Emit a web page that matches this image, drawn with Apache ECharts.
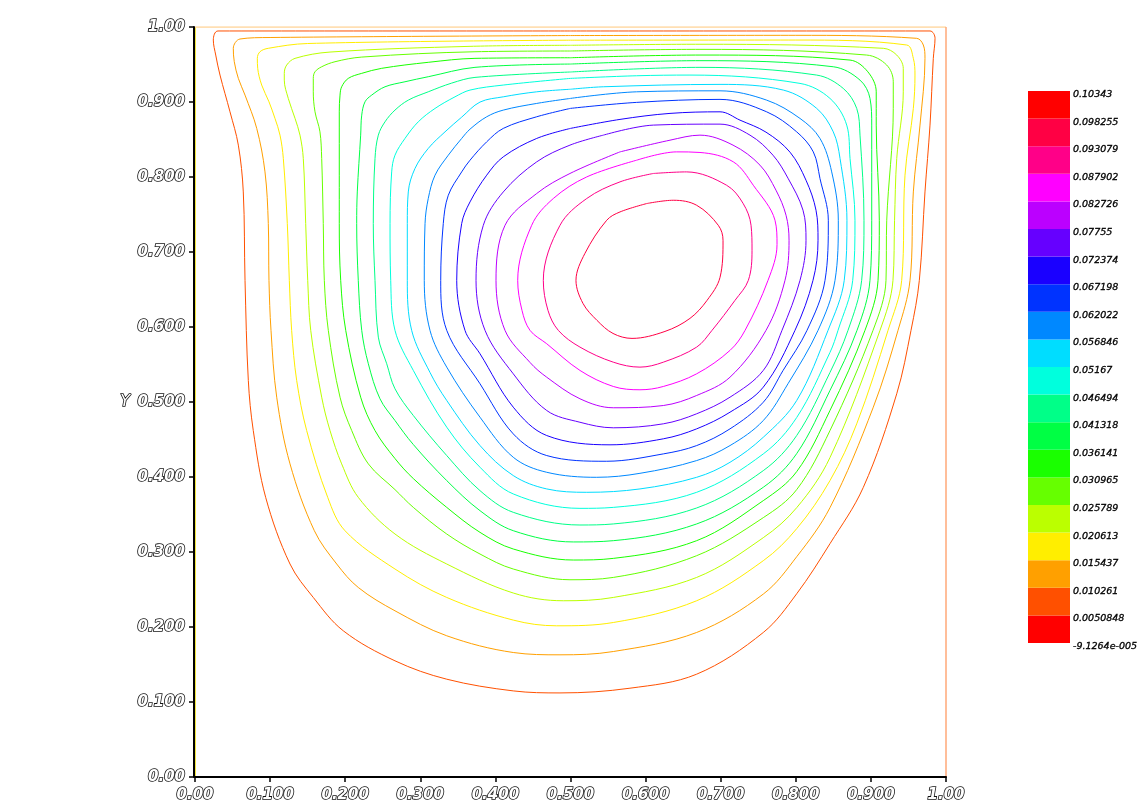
<!DOCTYPE html>
<html><head><meta charset="utf-8">
<script src="https://cdn.jsdelivr.net/npm/echarts@6/dist/echarts.min.js"></script>
<style>html,body{margin:0;padding:0;background:#fff}#chart{width:1143px;height:804px}</style>
</head><body><div id="chart"></div>
<script>
// ---- colour-bar boundaries (stream-function levels) and labels ----
const colorbarValues = [-0.000091264, 0.0050848, 0.010261, 0.015437, 0.020613, 0.025789, 0.030965, 0.036141, 0.041318, 0.046494, 0.05167, 0.056846, 0.062022, 0.067198, 0.072374, 0.07755, 0.082726, 0.087902, 0.093079, 0.098255, 0.10343];
const colorbarLabels = ['-9.1264e-005', '0.0050848', '0.010261', '0.015437', '0.020613', '0.025789', '0.030965', '0.036141', '0.041318', '0.046494', '0.05167', '0.056846', '0.062022', '0.067198', '0.072374', '0.07755', '0.082726', '0.087902', '0.093079', '0.098255', '0.10343'];
const xTickLabels = ['0.00', '0.100', '0.200', '0.300', '0.400', '0.500', '0.600', '0.700', '0.800', '0.900', '1.00'];
const yTickLabels = ['0.00', '0.100', '0.200', '0.300', '0.400', '0.500', '0.600', '0.700', '0.800', '0.900', '1.00'];

// contour levels, innermost ring first
const levels = [0.093079, 0.087902, 0.082726, 0.07755, 0.072374, 0.067198, 0.062022, 0.056846, 0.05167, 0.046494, 0.041318, 0.036141, 0.030965, 0.025789, 0.020613, 0.015437, 0.010261, 0.0050848];

// ---- contour lines, [x, y] ----
const ring1 = [[0.6015,0.7646],[0.5659,0.7534],[0.5482,0.7423],[0.5193,0.6983],[0.5073,0.6622],[0.5166,0.6315],[0.5353,0.6088],[0.5566,0.5914],[0.5819,0.5848],[0.6258,0.5941],[0.6591,0.6115],[0.6818,0.6355],[0.6991,0.6662],[0.7031,0.7156],[0.6968,0.7356],[0.6680,0.7623],[0.6369,0.7690],[0.6015,0.7646]];
const ring2 = [[0.6103,0.8047],[0.5659,0.7935],[0.5216,0.7713],[0.4860,0.7356],[0.4638,0.6622],[0.4700,0.6222],[0.4838,0.5955],[0.5126,0.5732],[0.5570,0.5531],[0.5925,0.5465],[0.6236,0.5531],[0.6680,0.5732],[0.6884,0.5955],[0.7190,0.6355],[0.7368,0.6622],[0.7417,0.7023],[0.7404,0.7356],[0.7297,0.7650],[0.7079,0.7890],[0.6547,0.8068],[0.6103,0.8047]];
const ring3 = [[0.5881,0.8224],[0.5216,0.8001],[0.4771,0.7713],[0.4483,0.7356],[0.4297,0.6622],[0.4354,0.6222],[0.4461,0.5955],[0.4683,0.5777],[0.5126,0.5421],[0.5570,0.5207],[0.5925,0.5163],[0.6236,0.5207],[0.6680,0.5376],[0.7124,0.5688],[0.7324,0.5955],[0.7630,0.6622],[0.7750,0.7100],[0.7723,0.7423],[0.7434,0.7890],[0.7168,0.8202],[0.6724,0.8327],[0.6414,0.8335],[0.5881,0.8224]];
const ring4 = [[0.5659,0.8335],[0.4993,0.8047],[0.4550,0.7780],[0.4128,0.7356],[0.4008,0.6622],[0.4128,0.5955],[0.4461,0.5527],[0.4683,0.5331],[0.5126,0.5043],[0.5570,0.4923],[0.6236,0.4953],[0.6680,0.5087],[0.7124,0.5331],[0.7603,0.5955],[0.7856,0.6622],[0.7910,0.7156],[0.7870,0.7490],[0.7736,0.7824],[0.7523,0.8158],[0.7164,0.8425],[0.6724,0.8558],[0.6325,0.8491],[0.5659,0.8335]];
const ring5 = [[0.5437,0.8558],[0.4993,0.8425],[0.4550,0.8202],[0.4105,0.7801],[0.3839,0.7356],[0.3742,0.6622],[0.3862,0.5955],[0.4238,0.5376],[0.4683,0.4887],[0.5126,0.4730],[0.5570,0.4656],[0.6236,0.4709],[0.6680,0.4843],[0.7124,0.5064],[0.7567,0.5421],[0.7816,0.5955],[0.8056,0.6622],[0.8136,0.7156],[0.8096,0.7557],[0.7896,0.7984],[0.7696,0.8291],[0.7390,0.8558],[0.6991,0.8705],[0.6103,0.8692],[0.5437,0.8558]];
const ring6 = [[0.5000,0.8648],[0.4550,0.8514],[0.4105,0.8269],[0.3884,0.8024],[0.3662,0.7668],[0.3551,0.7379],[0.3485,0.6622],[0.3595,0.5955],[0.3795,0.5643],[0.4238,0.4931],[0.4683,0.4553],[0.5526,0.4429],[0.6236,0.4509],[0.6680,0.4642],[0.7124,0.4864],[0.7567,0.5198],[0.7989,0.5955],[0.8229,0.6622],[0.8296,0.7156],[0.8269,0.7557],[0.8136,0.7957],[0.7923,0.8331],[0.7603,0.8598],[0.7257,0.8758],[0.6991,0.8869],[0.6325,0.8848],[0.5659,0.8768],[0.5000,0.8648]];
const ring7 = [[0.5000,0.8915],[0.4550,0.8803],[0.4105,0.8648],[0.3884,0.8469],[0.3662,0.8224],[0.3551,0.8068],[0.3373,0.7757],[0.3306,0.7379],[0.3272,0.6622],[0.3352,0.5955],[0.3795,0.5243],[0.4238,0.4575],[0.4683,0.4286],[0.5482,0.4210],[0.6236,0.4308],[0.6680,0.4419],[0.7124,0.4642],[0.7567,0.4997],[0.7830,0.5420],[0.8149,0.5955],[0.8389,0.6622],[0.8433,0.7423],[0.8322,0.7980],[0.8233,0.8335],[0.8012,0.8602],[0.7612,0.8869],[0.6991,0.9035],[0.5881,0.8995],[0.5000,0.8915]];
const ring8 = [[0.5000,0.9048],[0.4550,0.8981],[0.4105,0.8892],[0.3884,0.8803],[0.3662,0.8638],[0.3551,0.8514],[0.3373,0.8291],[0.3196,0.8024],[0.3106,0.7713],[0.3063,0.7379],[0.3053,0.6622],[0.3129,0.5955],[0.3352,0.5465],[0.3795,0.4797],[0.4238,0.4263],[0.4683,0.4063],[0.5349,0.3996],[0.5925,0.4049],[0.6680,0.4219],[0.7124,0.4419],[0.7567,0.4753],[0.7900,0.5250],[0.8296,0.5955],[0.8522,0.6622],[0.8566,0.7423],[0.8478,0.8068],[0.8322,0.8514],[0.8056,0.8781],[0.7612,0.9025],[0.6991,0.9149],[0.5881,0.9136],[0.5000,0.9048]];
const ring9 = [[0.5000,0.9170],[0.4550,0.9136],[0.4105,0.9069],[0.3795,0.8999],[0.3551,0.8798],[0.3329,0.8602],[0.3106,0.8381],[0.2929,0.8113],[0.2840,0.7801],[0.2827,0.7379],[0.2827,0.6622],[0.2885,0.5955],[0.3129,0.5394],[0.3352,0.5020],[0.3795,0.4419],[0.4238,0.4019],[0.4683,0.3841],[0.5216,0.3796],[0.5925,0.3841],[0.6680,0.3996],[0.7124,0.4196],[0.7567,0.4530],[0.8012,0.5020],[0.8429,0.5955],[0.8645,0.6622],[0.8681,0.7423],[0.8589,0.8247],[0.8499,0.8602],[0.8278,0.8915],[0.7834,0.9159],[0.6991,0.9235],[0.5437,0.9203],[0.5000,0.9170]];
const ring10 = [[0.5000,0.9315],[0.4105,0.9226],[0.3662,0.9159],[0.3462,0.9069],[0.3196,0.8914],[0.2973,0.8736],[0.2796,0.8514],[0.2663,0.8291],[0.2619,0.8068],[0.2597,0.7379],[0.2606,0.6622],[0.2663,0.5955],[0.2907,0.5421],[0.3352,0.4664],[0.3795,0.4130],[0.4238,0.3774],[0.5126,0.3582],[0.5570,0.3595],[0.6680,0.3796],[0.7567,0.4308],[0.8012,0.4793],[0.8455,0.5661],[0.8562,0.5955],[0.8758,0.6622],[0.8788,0.7423],[0.8722,0.8247],[0.8678,0.8692],[0.8455,0.9048],[0.8056,0.9248],[0.6591,0.9359],[0.5881,0.9350],[0.5000,0.9315]];
const ring11 = [[0.5000,0.9400],[0.3728,0.9328],[0.3418,0.9252],[0.3106,0.9136],[0.2840,0.9025],[0.2663,0.8892],[0.2530,0.8736],[0.2441,0.8558],[0.2397,0.8247],[0.2374,0.7379],[0.2397,0.6622],[0.2441,0.5865],[0.2553,0.5510],[0.2663,0.5176],[0.2907,0.4820],[0.3352,0.4286],[0.3795,0.3818],[0.4238,0.3529],[0.5126,0.3360],[0.5570,0.3374],[0.6680,0.3587],[0.7567,0.4085],[0.8012,0.4553],[0.8455,0.5394],[0.8695,0.5955],[0.8877,0.6622],[0.8908,0.7423],[0.8855,0.8558],[0.8811,0.8915],[0.8632,0.9181],[0.8278,0.9359],[0.6724,0.9462],[0.5000,0.9400]];
const ring12 = [[0.5000,0.9506],[0.3728,0.9462],[0.3106,0.9337],[0.2796,0.9270],[0.2530,0.9203],[0.2353,0.9092],[0.2264,0.9003],[0.2220,0.8825],[0.2206,0.8558],[0.2161,0.7801],[0.2153,0.7379],[0.2174,0.6622],[0.2220,0.5955],[0.2308,0.5510],[0.2463,0.5043],[0.2663,0.4753],[0.2907,0.4433],[0.3352,0.3952],[0.3795,0.3551],[0.4238,0.3284],[0.5037,0.3134],[0.5570,0.3151],[0.6680,0.3374],[0.7567,0.3863],[0.8012,0.4312],[0.8455,0.5154],[0.8815,0.5955],[0.8988,0.6622],[0.9011,0.7423],[0.9011,0.8692],[0.8988,0.9048],[0.8855,0.9292],[0.8499,0.9470],[0.6724,0.9551],[0.5000,0.9506]];
const ring13 = [[0.5000,0.9590],[0.3728,0.9582],[0.3106,0.9529],[0.2486,0.9449],[0.2220,0.9382],[0.2041,0.9315],[0.1953,0.9203],[0.1931,0.9092],[0.1921,0.8869],[0.1921,0.8024],[0.1921,0.7379],[0.1940,0.6622],[0.2007,0.5955],[0.2206,0.5064],[0.2397,0.4619],[0.2663,0.4246],[0.2907,0.3979],[0.3352,0.3595],[0.3795,0.3262],[0.4238,0.3040],[0.5037,0.2893],[0.5570,0.2915],[0.6680,0.3151],[0.7567,0.3685],[0.8012,0.4072],[0.8455,0.4887],[0.8921,0.5955],[0.9095,0.6622],[0.9112,0.7423],[0.9071,0.8692],[0.9071,0.9136],[0.8959,0.9403],[0.8722,0.9559],[0.6724,0.9626],[0.5000,0.9590]];
const ring14 = [[0.5000,0.9680],[0.3728,0.9670],[0.2220,0.9599],[0.1864,0.9537],[0.1687,0.9470],[0.1598,0.9403],[0.1575,0.9315],[0.1575,0.9136],[0.1598,0.8869],[0.1664,0.8602],[0.1687,0.8247],[0.1708,0.7379],[0.1722,0.6622],[0.1775,0.5955],[0.1931,0.5064],[0.2087,0.4619],[0.2308,0.4175],[0.2663,0.3832],[0.2907,0.3595],[0.3352,0.3240],[0.3795,0.2973],[0.4238,0.2773],[0.4993,0.2630],[0.5570,0.2661],[0.6680,0.2951],[0.7567,0.3458],[0.8012,0.3832],[0.8455,0.4619],[0.9028,0.5955],[0.9201,0.6622],[0.9211,0.7423],[0.9298,0.8915],[0.9298,0.9270],[0.9210,0.9493],[0.8944,0.9626],[0.6724,0.9702],[0.5000,0.9680]];
const ring15 = [[0.5000,0.9756],[0.3662,0.9742],[0.1798,0.9666],[0.1332,0.9582],[0.1221,0.9493],[0.1189,0.9382],[0.1189,0.9292],[0.1242,0.9048],[0.1332,0.8781],[0.1398,0.8558],[0.1442,0.8247],[0.1474,0.7379],[0.1501,0.6622],[0.1541,0.5955],[0.1687,0.5064],[0.1798,0.4619],[0.1953,0.4175],[0.2174,0.3729],[0.2663,0.3240],[0.3352,0.2840],[0.4238,0.2453],[0.4904,0.2350],[0.5570,0.2394],[0.6680,0.2661],[0.7567,0.3191],[0.8012,0.3591],[0.8455,0.4259],[0.9121,0.5955],[0.9294,0.6622],[0.9315,0.7423],[0.9344,0.8247],[0.9431,0.9136],[0.9431,0.9448],[0.9344,0.9626],[0.9165,0.9716],[0.6724,0.9770],[0.5000,0.9756]];
const ring16 = [[0.5000,0.9824],[0.1500,0.9780],[0.0976,0.9716],[0.0866,0.9671],[0.0830,0.9582],[0.0835,0.9449],[0.0888,0.9226],[0.0985,0.9003],[0.1065,0.8781],[0.1132,0.8558],[0.1176,0.8247],[0.1229,0.7379],[0.1256,0.6622],[0.1287,0.5955],[0.1354,0.5287],[0.1487,0.4619],[0.1767,0.3729],[0.1997,0.3284],[0.2663,0.2773],[0.3352,0.2394],[0.4238,0.2092],[0.4816,0.2016],[0.5570,0.2060],[0.6680,0.2350],[0.7567,0.2884],[0.8012,0.3311],[0.8455,0.3952],[0.8811,0.4709],[0.9228,0.5955],[0.9410,0.6622],[0.9454,0.8024],[0.9565,0.8915],[0.9587,0.9359],[0.9565,0.9582],[0.9477,0.9760],[0.8000,0.9826],[0.5000,0.9824]];
const ring17 = [[0.5000,0.9886],[0.1000,0.9860],[0.0599,0.9840],[0.0510,0.9716],[0.0523,0.9537],[0.0577,0.9315],[0.0666,0.9092],[0.0822,0.8648],[0.0932,0.8068],[0.0976,0.7379],[0.0985,0.6622],[0.1012,0.5955],[0.1088,0.5064],[0.1265,0.4175],[0.1589,0.3284],[0.1887,0.2840],[0.2174,0.2527],[0.2663,0.2216],[0.3352,0.1883],[0.4238,0.1660],[0.4860,0.1629],[0.5570,0.1673],[0.6680,0.1927],[0.7567,0.2439],[0.8012,0.2937],[0.8455,0.3591],[0.9032,0.4931],[0.9361,0.5955],[0.9521,0.6622],[0.9565,0.7801],[0.9654,0.8692],[0.9720,0.9582],[0.9698,0.9760],[0.9610,0.9849],[0.8000,0.9889],[0.5000,0.9886]];
const ring18 = [[0.5000,0.9947],[0.0306,0.9947],[0.0244,0.9826],[0.0276,0.9626],[0.0333,0.9359],[0.0466,0.8869],[0.0577,0.8425],[0.0643,0.7801],[0.0666,0.6622],[0.0710,0.5287],[0.0776,0.4619],[0.0941,0.3729],[0.1265,0.2840],[0.1575,0.2394],[0.1975,0.1949],[0.2663,0.1549],[0.3352,0.1304],[0.4238,0.1148],[0.4860,0.1121],[0.5792,0.1184],[0.6680,0.1371],[0.7567,0.1927],[0.8012,0.2443],[0.8455,0.3111],[0.8899,0.3862],[0.9344,0.5110],[0.9534,0.5955],[0.9645,0.6622],[0.9720,0.7801],[0.9787,0.8692],[0.9831,0.9582],[0.9854,0.9849],[0.9787,0.9947],[0.5000,0.9947]];
const rings = [ring1, ring2, ring3, ring4, ring5, ring6, ring7, ring8, ring9, ring10, ring11, ring12, ring13, ring14, ring15, ring16, ring17, ring18];

// cavity walls (zero stream-function boundary)
const wallLeft = [[0, 0], [0, 1]];
const wallTop = [[0, 1], [1, 1]];
const wallRight = [[1, 0], [1, 1]];

// ---- styles ----
const bandColors = ['#ff0000','#ff5000','#ffa000','#ffee00','#bbff00','#66ff00','#1aff00','#00ff44','#00ff88','#00ffdd','#00ddff','#0088ff','#0033ff','#1a00ff','#6600ff','#bb00ff','#ff00ff','#ff0088','#ff0044','#ff0000'];
function colorForLevel(v) {
  let best = 0, bd = Infinity;
  for (let i = 0; i < colorbarValues.length - 1; i++) {
    const d = Math.abs(colorbarValues[i] - v);
    if (d < bd) { bd = d; best = i; }
  }
  return bandColors[best];
}
const tickText = {
  fontFamily: 'DejaVu Sans', fontStyle: 'italic', fontWeight: 'bold', fontSize: 15,
  color: '#ffffff', textBorderColor: '#111111', textBorderWidth: 1.6,
  textShadowColor: 'rgba(0,0,0,0.5)', textShadowOffsetX: 2, textShadowOffsetY: 2, textShadowBlur: 0
};

const series = [];
rings.forEach((r, i) => {
  series.push({
    type: 'line', xAxisIndex: 0, yAxisIndex: 0, data: r, showSymbol: false, smooth: 0.35,
    silent: true, lineStyle: { color: colorForLevel(levels[i]), width: 1 }, z: 3
  });
});
[[wallLeft, '#eedd00', 1.5], [wallTop, '#ffd49a', 1.5], [wallRight, '#ffa878', 1.5]].forEach(([d, c, w]) => {
  series.push({ type: 'line', xAxisIndex: 0, yAxisIndex: 0, data: d, showSymbol: false, silent: true,
    lineStyle: { color: c, width: w }, z: 2 });
});
const bands = [];
for (let i = 0; i < colorbarValues.length - 1; i++) bands.push([colorbarValues[i], colorbarValues[i + 1], i]);
series.push({
  type: 'custom', xAxisIndex: 1, yAxisIndex: 1, data: bands, silent: true,
  renderItem: (params, api) => {
    const lo = api.value(0), hi = api.value(1), idx = api.value(2);
    const p0 = api.coord([0, lo]), p1 = api.coord([1, hi]);
    return { type: 'rect', shape: { x: p0[0], y: p1[1], width: p1[0] - p0[0], height: p0[1] - p1[1] },
      style: { fill: bandColors[idx] } };
  }
});

const chart = echarts.init(document.getElementById('chart'), null, { renderer: 'canvas' });
chart.setOption({
  animation: false,
  backgroundColor: '#ffffff',
  grid: [
    { left: 195, right: 197, top: 27, bottom: 27 },
    { left: 1028, width: 42, top: 91, height: 552 }
  ],
  xAxis: [
    { type: 'value', gridIndex: 0, min: 0, max: 1, interval: 0.1, splitLine: { show: false }, z: 5,
      axisLine: { show: true, onZero: false, lineStyle: { color: '#000', width: 2 } },
      axisTick: { show: true, length: 5, lineStyle: { color: '#000', width: 1.5 } },
      axisLabel: Object.assign({ margin: 11, formatter: v => xTickLabels[Math.round(v * 10)] }, tickText) },
    { type: 'value', gridIndex: 1, min: 0, max: 1, show: false }
  ],
  yAxis: [
    { type: 'value', gridIndex: 0, min: 0, max: 1, interval: 0.1, splitLine: { show: false }, z: 5, offset: 1,
      axisLine: { show: true, onZero: false, lineStyle: { color: '#000', width: 2 } },
      axisTick: { show: true, length: 5, lineStyle: { color: '#000', width: 1.5 } },
      axisLabel: Object.assign({ margin: 9, formatter: v => yTickLabels[Math.round(v * 10)] }, tickText),
      name: 'Y', nameLocation: 'middle', nameGap: 62, nameRotate: 0,
      nameTextStyle: Object.assign({}, tickText, { fontWeight: 'normal', fontSize: 16 }) },
    { type: 'value', gridIndex: 1, position: 'right', min: colorbarValues[0], max: colorbarValues[colorbarValues.length - 1],
      splitLine: { show: false }, axisLine: { show: false }, axisTick: { show: false },
      axisLabel: { show: true, margin: 3, customValues: colorbarValues, verticalAlign: 'top', lineHeight: 7,
        fontFamily: 'DejaVu Sans', fontStyle: 'italic', fontSize: 9.5, color: '#000',
        textBorderColor: '#000', textBorderWidth: 0.3,
        formatter: v => { const i = colorbarValues.findIndex(c => Math.abs(c - v) < 1e-7); return i >= 0 ? colorbarLabels[i] : ''; } } }
  ],
  series: series
});
</script></body></html>
